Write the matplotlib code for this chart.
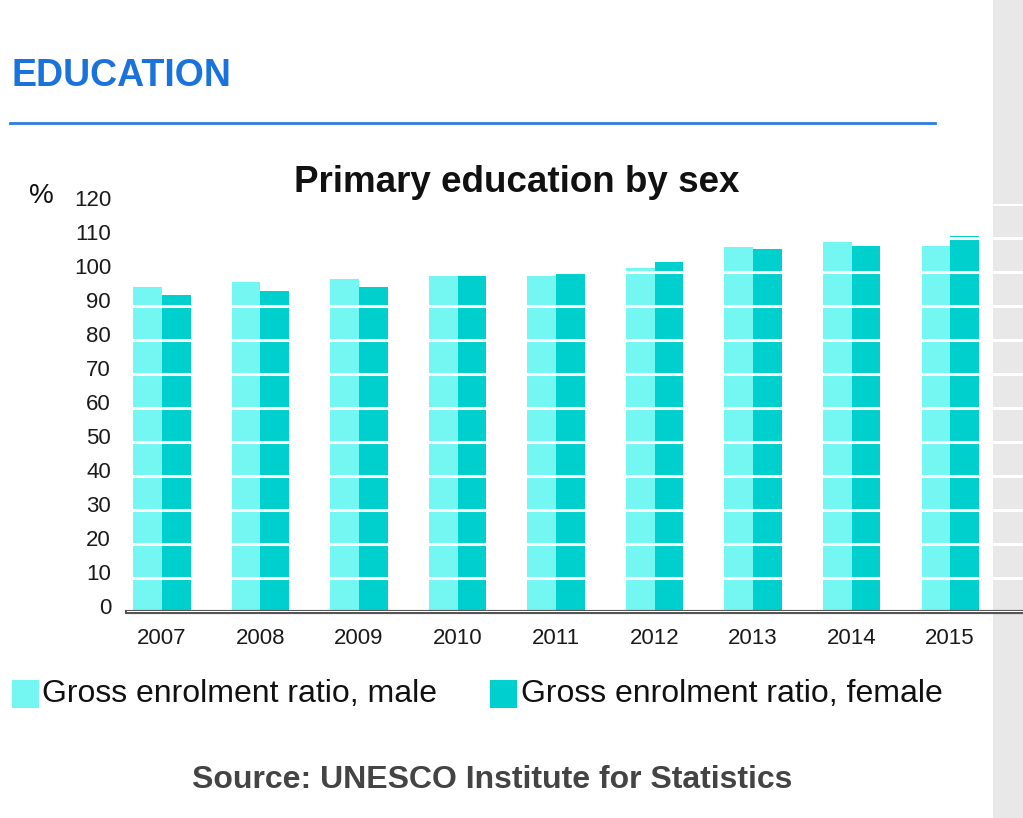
import numpy as np
import matplotlib.pyplot as plt
import matplotlib.transforms as mtransforms
from matplotlib.patches import Rectangle

plt.rcParams['font.family'] = ['Liberation Sans', 'DejaVu Sans']

years = ['2007', '2008', '2009', '2010', '2011', '2012', '2013', '2014', '2015']
male = [95.5, 97.0, 97.9, 98.7, 98.7, 101.1, 107.4, 108.8, 107.5]
female = [93.2, 94.4, 95.7, 98.7, 99.3, 102.9, 106.8, 107.7, 110.7]
y_ticks = list(range(0, 121, 10))

c_male = '#74f7f2'
c_female = '#00d0cd'

W, H = 1023, 818
fig = plt.figure(figsize=(W / 100, H / 100), dpi=100)

# grey strip on the right edge (behind the axes)
fig.patches.append(Rectangle((993 / W, 0), 30 / W, 1, transform=fig.transFigure,
                             facecolor='#e8e8e8', edgecolor='none', zorder=-5))

# header
fig.text(12 / W, 1 - 76 / H, 'EDUCATION', color='#1a73dc', fontsize=27,
         fontweight='bold', va='center', ha='left')
fig.add_artist(plt.Line2D([10 / W, 935 / W], [1 - 123 / H, 1 - 123 / H],
                          transform=fig.transFigure, color='#2b7fdc', lw=2))

ax = fig.add_axes([127 / W, 1 - 612 / H, (W - 127) / W, (612 - 204) / H])
ax.patch.set_alpha(0)

x = np.arange(len(years))
bw = 0.29
ax.bar(x - bw / 2, male, width=bw, color=c_male, zorder=1)
ax.bar(x + bw / 2, female, width=bw, color=c_female, zorder=1)

ax.set_xlim(-0.355, 8.74)
ax.set_ylim(0, 120)
ax.set_yticks(y_ticks)
ax.set_xticks(x)
ax.set_xticklabels(years)
ax.tick_params(length=0, labelsize=16, colors='#1a1a1a')
ax.tick_params(axis='x', pad=11.5)
ax.tick_params(axis='y', pad=11.5)
ax.yaxis.grid(True, color='white', lw=2.2)
ax.set_axisbelow(False)
for s in ['top', 'right', 'left']:
    ax.spines[s].set_visible(False)
ax.spines['bottom'].set_color('#555555')
ax.spines['bottom'].set_linewidth(3)

# y labels sit a little above their gridlines in the original
shift = mtransforms.ScaledTranslation(0, 6 / 100, fig.dpi_scale_trans)
for lbl in ax.get_yticklabels():
    lbl.set_transform(lbl.get_transform() + shift)

fig.text(517 / W, 1 - 182 / H, 'Primary education by sex', fontsize=26.5,
         fontweight='bold', ha='center', va='center', color='#111111')
fig.text(29 / W, 1 - 196 / H, '%', fontsize=20, ha='left', va='center',
         color='#111111')

# legend
fig.patches.append(Rectangle((12 / W, 1 - 708 / H), 27 / W, 28 / H,
                             transform=fig.transFigure, facecolor=c_male,
                             edgecolor='none'))
fig.text(42 / W, 1 - 694 / H, 'Gross enrolment ratio, male', fontsize=23,
         ha='left', va='center', color='#111111')
fig.patches.append(Rectangle((490 / W, 1 - 708 / H), 27 / W, 28 / H,
                             transform=fig.transFigure, facecolor=c_female,
                             edgecolor='none'))
fig.text(521 / W, 1 - 694 / H, 'Gross enrolment ratio, female', fontsize=23,
         ha='left', va='center', color='#111111')

fig.text(492 / W, 1 - 780 / H, 'Source: UNESCO Institute for Statistics',
         fontsize=23, fontweight='bold', ha='center', va='center',
         color='#444444')

fig.savefig('out.png', dpi=100)
